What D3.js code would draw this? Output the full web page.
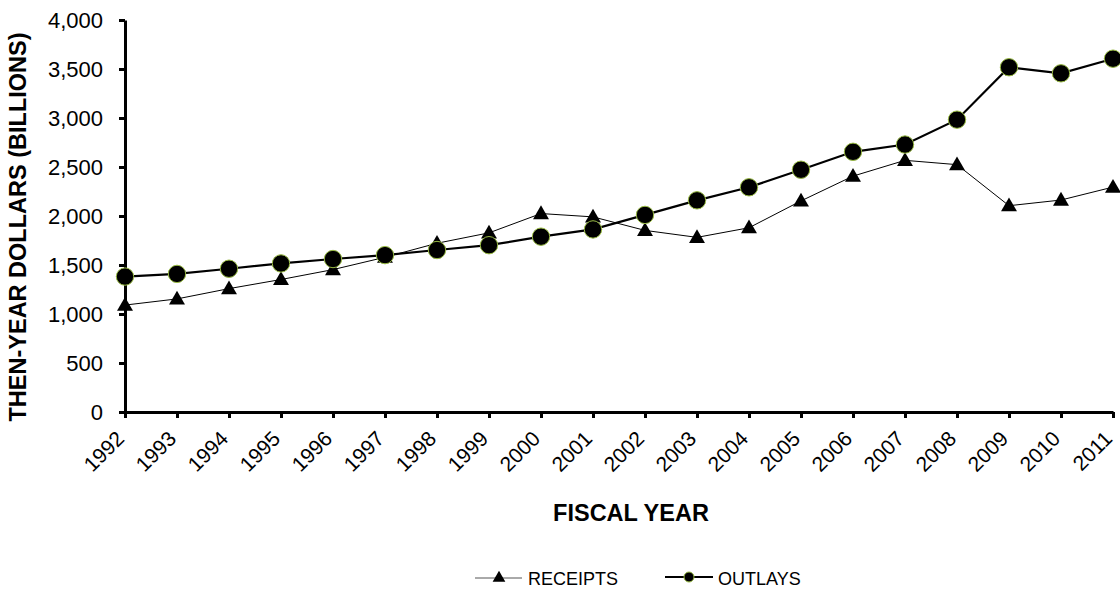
<!DOCTYPE html>
<html><head><meta charset="utf-8">
<script src="https://cdn.jsdelivr.net/npm/d3@7"></script>
<style>body{margin:0;background:#fff;} svg{display:block;font-family:"Liberation Sans",Arial,sans-serif;}</style>
</head><body>
<svg id="c" width="1120" height="590"></svg>
<script>
const years = [1992,1993,1994,1995,1996,1997,1998,1999,2000,2001,2002,2003,2004,2005,2006,2007,2008,2009,2010,2011];
const receipts = [1091,1154,1259,1352,1453,1579,1722,1828,2025,1991,1853,1782,1880,2154,2407,2568,2524,2105,2163,2295];
const outlays = [1382,1409,1462,1516,1561,1601,1653,1702,1789,1863,2011,2160,2293,2472,2655,2729,2983,3518,3456,3605];
const yTicks = [0,500,1000,1500,2000,2500,3000,3500,4000];
const seriesNames = ["RECEIPTS","OUTLAYS"];

const FONT = "Liberation Sans, Arial, sans-serif";
const svg = d3.select("#c");
const x = d3.scalePoint().domain(years).range([125,1113]);
const y = d3.scaleLinear().domain([0,4000]).range([412,20]);

// axes
const yAxis = svg.append("g").attr("transform","translate(125,0)")
  .call(d3.axisLeft(y).tickValues(yTicks).tickFormat(d3.format(",")).tickSize(6).tickSizeOuter(0));
yAxis.select(".domain").attr("stroke","#000").attr("stroke-width",3);
yAxis.selectAll(".tick line").attr("stroke","#000").attr("stroke-width",3);
yAxis.selectAll(".tick text").attr("font-size",22).attr("fill","#000").attr("x",-22)
  .attr("font-family",FONT);

const xAxis = svg.append("g").attr("transform","translate(0,412)")
  .call(d3.axisBottom(x).tickSize(6).tickSizeOuter(0));
xAxis.select(".domain").attr("stroke","#000").attr("stroke-width",3);
xAxis.selectAll(".tick text").attr("font-size",21).attr("fill","#000")
  .attr("font-family",FONT)
  .attr("text-anchor","end").attr("dy",null).attr("y",0).attr("x",0)
  .attr("transform","translate(0,28) rotate(-45)");
xAxis.selectAll(".tick line").attr("stroke","#000").attr("stroke-width",3);

// titles
svg.append("text").attr("transform","translate(26,227) rotate(-90)")
  .attr("text-anchor","middle").attr("font-size",23.5).attr("font-weight","bold")
  .text("THEN-YEAR DOLLARS (BILLIONS)");
svg.append("text").attr("x",631).attr("y",521).attr("text-anchor","middle")
  .attr("font-size",23.5).attr("font-weight","bold").text("FISCAL YEAR");

// lines
const line = d3.line().x((d,i)=>x(years[i])).y(d=>y(d));
svg.append("path").datum(receipts).attr("d",line).attr("fill","none").attr("stroke","#000").attr("stroke-width",1);
svg.append("path").datum(outlays).attr("d",line).attr("fill","none").attr("stroke","#000").attr("stroke-width",2.2);

const tri = d3.symbol().type(d3.symbolTriangle).size(110);
svg.append("g").selectAll("path").data(receipts).join("path")
  .attr("d",tri).attr("transform",(d,i)=>`translate(${x(years[i])},${y(d)+1})`).attr("fill","#000");
svg.append("g").selectAll("circle").data(outlays).join("circle")
  .attr("cx",(d,i)=>x(years[i])).attr("cy",d=>y(d)).attr("r",8.7)
  .attr("fill","#000").attr("stroke","#99bb44").attr("stroke-width",1);

// legend
const lg = svg.append("g");
lg.append("line").attr("x1",475).attr("x2",522).attr("y1",578).attr("y2",578).attr("stroke","#555").attr("stroke-width",1);
lg.append("path").attr("d",d3.symbol().type(d3.symbolTriangle).size(70)).attr("transform","translate(499,578)").attr("fill","#000");
lg.append("text").attr("x",528).attr("y",585).attr("font-size",18).text(seriesNames[0]);
lg.append("line").attr("x1",665).attr("x2",713).attr("y1",577).attr("y2",577).attr("stroke","#000").attr("stroke-width",2.2);
lg.append("circle").attr("cx",689).attr("cy",577).attr("r",5).attr("fill","#000").attr("stroke","#99bb44").attr("stroke-width",1);
lg.append("text").attr("x",718).attr("y",585).attr("font-size",18).text(seriesNames[1]);
</script>
</body></html>
